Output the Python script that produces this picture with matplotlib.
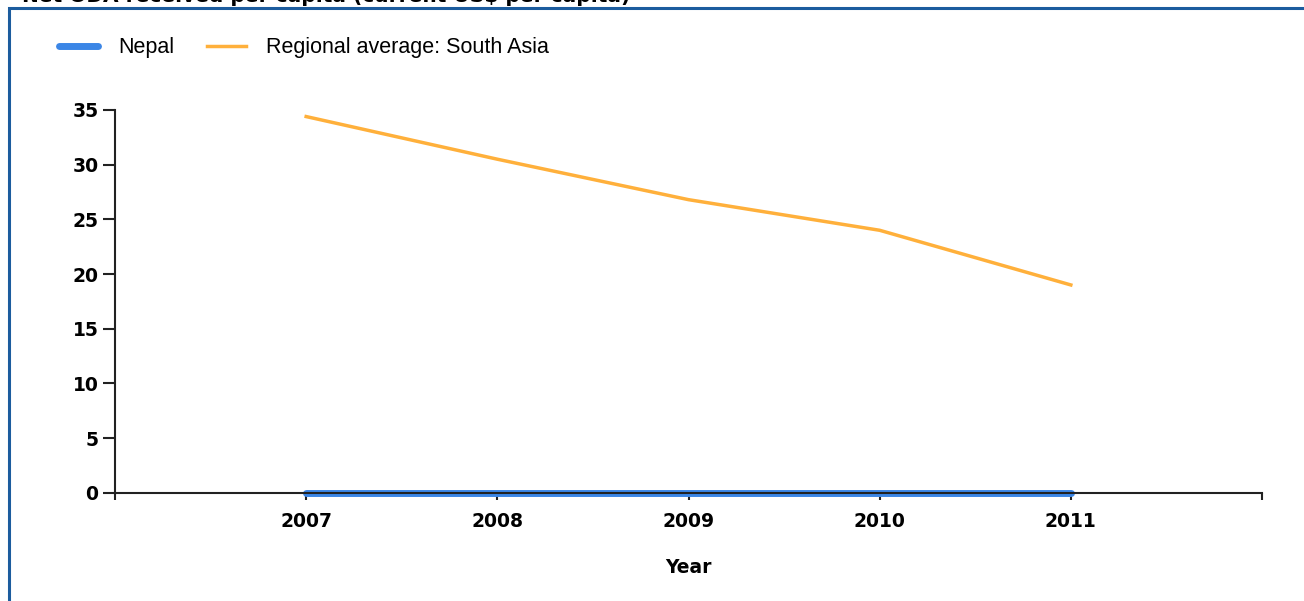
import matplotlib.pyplot as plt
from matplotlib.patches import Rectangle

# data
years = [2007, 2008, 2009, 2010, 2011]
nepal = [0, 0, 0, 0, 0]
south_asia = [34.4, 30.5, 26.8, 24.0, 19.0]
y_ticks = [0, 5, 10, 15, 20, 25, 30, 35]
x_ticks = [2006, 2007, 2008, 2009, 2010, 2011, 2012]
x_labels = ['', '2007', '2008', '2009', '2010', '2011', '']

plt.rcParams['font.family'] = ['DejaVu Sans']

fig = plt.figure(figsize=(13.04, 6.01), dpi=100)
W, H = 1304, 601

# panel border (dark blue) that is cut at the right and bottom
fig.patches.append(Rectangle((9 / W, -0.05), 1.2, 1 - 8 / H + 0.05,
                             transform=fig.transFigure, fill=False,
                             edgecolor='#1c5c9e', lw=2.2, zorder=0))
# title, cut off at the top of the picture as in the reference
fig.text(22 / W, 1 - 2 / H, 'Net ODA received per capita (current US$ per capita)',
         fontsize=14.5, fontweight='bold', va='baseline', ha='left')

ax = fig.add_axes([115 / W, 1 - 492.7 / H, (1262 - 115) / W, (492.7 - 110) / H])
ax.plot(years, nepal, color='#3b86e6', lw=5, solid_capstyle='round',
        clip_on=False, zorder=3, label='Nepal')
ax.plot(years, south_asia, color='#ffb03b', lw=2.5, zorder=3,
        label='Regional average: South Asia')

ax.set_xlim(2006, 2012)
ax.set_ylim(0, 35)
ax.set_xticks(x_ticks)
ax.set_xticklabels(x_labels)
ax.set_yticks(y_ticks)
for s in ['top', 'right']:
    ax.spines[s].set_visible(False)
for s in ['left', 'bottom']:
    ax.spines[s].set_linewidth(1.5)
    ax.spines[s].set_color('#222222')
    ax.spines[s].set_zorder(5)
ax.tick_params(axis='y', length=9, width=1.5, pad=3, labelsize=13.5, color='#222222')
ax.tick_params(axis='x', length=5, width=1.5, pad=9, labelsize=13.5, color='#222222')
for lab in ax.get_xticklabels() + ax.get_yticklabels():
    lab.set_fontweight('bold')
ax.set_xlabel('Year', fontsize=13.5, fontweight='bold', labelpad=19)

fig.legend(loc='center left', bbox_to_anchor=(40 / W, 1 - 48 / H), ncol=2,
           frameon=False, prop={'family': 'Liberation Sans', 'size': 15.5},
           handlelength=1.8, handletextpad=0.95, columnspacing=1.5)

fig.savefig('out.png', dpi=100, facecolor='white')
